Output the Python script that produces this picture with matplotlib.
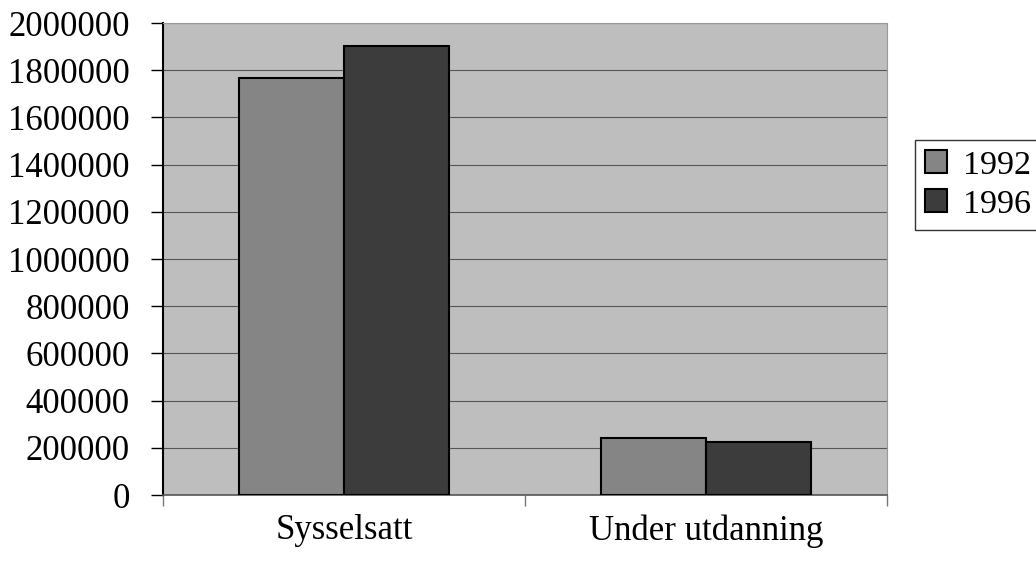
import numpy as np
import matplotlib.pyplot as plt

categories = ['Sysselsatt', 'Under utdanning']
years = ['1992', '1996']
values_1992 = [1767000, 241000]
values_1996 = [1902000, 225000]
yticks = list(range(0, 2000001, 200000))

plt.rcParams['font.family'] = ['Liberation Serif', 'DejaVu Serif']

fig = plt.figure(figsize=(10.36, 5.62), dpi=100)
ax = fig.add_axes([163 / 1036, 1 - 495 / 562, 724 / 1036, 472 / 562])
ax.set_facecolor('#bebebe')

x = np.arange(len(categories))
w = 0.29
ax.bar(x - w / 2, values_1992, w, color='#858585', edgecolor='black', linewidth=1.5, label=years[0], zorder=3)
ax.bar(x + w / 2, values_1996, w, color='#3c3c3c', edgecolor='black', linewidth=1.5, label=years[1], zorder=3)

ax.set_xlim(-0.5, 1.5)
ax.set_ylim(0, 2000000)
ax.set_yticks(yticks)
ax.set_yticklabels([str(v) for v in yticks], fontsize=25)
ax.yaxis.grid(True, color='#555555', linewidth=0.8, zorder=1)
ax.tick_params(axis='y', length=9, width=1, pad=15)

# category boundaries get the tick marks, labels sit on minor ticks at the centres
ax.set_xticks([-0.5, 0.5, 1.5])
ax.set_xticklabels([])
ax.tick_params(axis='x', length=8, width=1, color='#777777', direction='out')
ax.set_xticks(x, minor=True)
ax.set_xticklabels(categories, minor=True, fontsize=25)
ax.tick_params(axis='x', which='minor', length=0, pad=14)

for s in ['top', 'right']:
    ax.spines[s].set_color('#999999')
    ax.spines[s].set_linewidth(0.8)
ax.spines['left'].set_color('black')
ax.spines['left'].set_linewidth(1.5)
ax.spines['bottom'].set_color('#555555')
ax.spines['bottom'].set_linewidth(1.2)

leg = fig.legend(loc='upper left', bbox_to_anchor=(915 / 1036, 1 - 140 / 562),
                 fontsize=24.5, frameon=True, fancybox=False, edgecolor='black',
                 handlelength=0.65, handleheight=0.65, handletextpad=0.45,
                 borderpad=0.3, labelspacing=0.25, borderaxespad=0)
leg.get_frame().set_linewidth(1.0)

fig.savefig('out.png', dpi=100)
